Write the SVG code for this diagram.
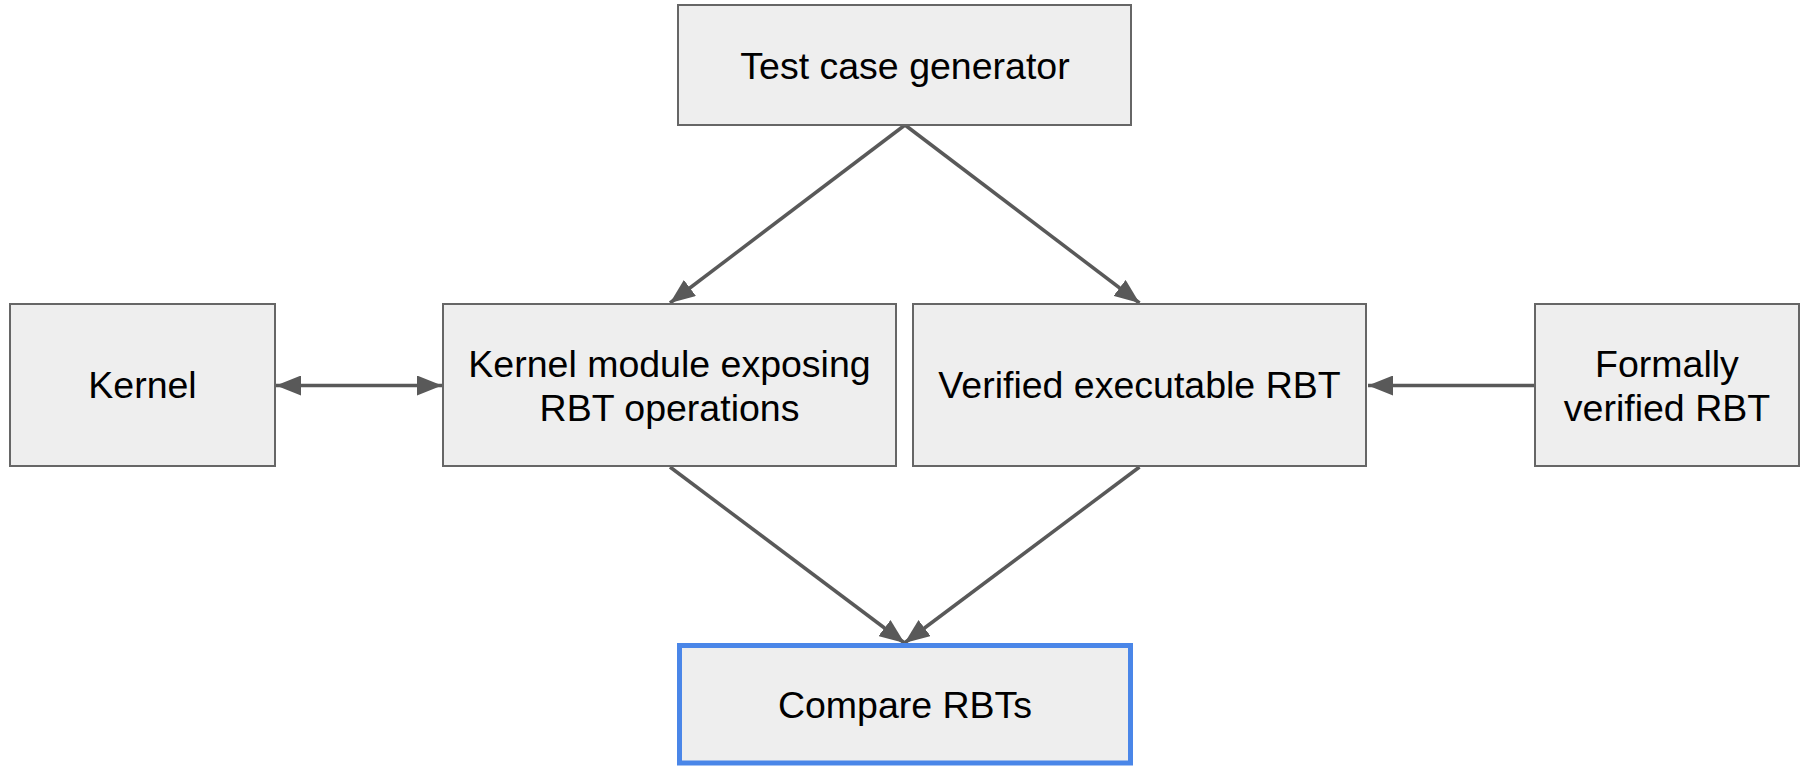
<svg xmlns="http://www.w3.org/2000/svg" width="1806" height="766" viewBox="0 0 1806 766">
<style>
.box{fill:#eeeeee;stroke:#666666;stroke-width:2}
.hl{fill:#eeeeee;stroke:#4a86e8;stroke-width:5}
.t{font-family:"Liberation Sans",Arial,sans-serif;font-size:37.5px;fill:#000000;text-anchor:middle}
.c{fill:none;stroke:#595959;stroke-width:3.5}
</style>
<defs>
<marker id="ah" markerUnits="userSpaceOnUse" markerWidth="26" markerHeight="20" refX="25" refY="10" orient="auto-start-reverse">
<path d="M0,0 L25,10 L0,20 Z" fill="#595959"/>
</marker>
</defs>
<rect width="1806" height="766" fill="#ffffff"/>
<g id="connectors">
<line class="c" x1="905" y1="125" x2="670" y2="303" marker-end="url(#ah)"/>
<line class="c" x1="905" y1="125" x2="1139.5" y2="303" marker-end="url(#ah)"/>
<line class="c" x1="276" y1="385.5" x2="442" y2="385.5" marker-start="url(#ah)" marker-end="url(#ah)"/>
<line class="c" x1="1535" y1="385.5" x2="1368" y2="385.5" marker-end="url(#ah)"/>
<line class="c" x1="670" y1="467" x2="904.5" y2="643" marker-end="url(#ah)"/>
<line class="c" x1="1139.5" y1="467" x2="904.5" y2="643" marker-end="url(#ah)"/>
</g>
<g id="test-case-generator">
<rect class="box" x="678" y="5" width="453" height="120"/>
<text class="t" x="905" y="79">Test case generator</text>
</g>
<g id="kernel">
<rect class="box" x="10" y="304" width="265" height="162"/>
<text class="t" x="142.5" y="398">Kernel</text>
</g>
<g id="kernel-module">
<rect class="box" x="443" y="304" width="453" height="162"/>
<text class="t" x="669.5" y="377">Kernel module exposing</text>
<text class="t" x="669.5" y="421">RBT operations</text>
</g>
<g id="verified-executable">
<rect class="box" x="913" y="304" width="453" height="162"/>
<text class="t" x="1139.5" y="398">Verified executable RBT</text>
</g>
<g id="formally-verified">
<rect class="box" x="1535" y="304" width="264" height="162"/>
<text class="t" x="1667" y="377">Formally</text>
<text class="t" x="1667" y="421">verified RBT</text>
</g>
<g id="compare-rbts">
<rect class="hl" x="679.5" y="645.5" width="451" height="117.5"/>
<text class="t" x="905" y="718">Compare RBTs</text>
</g>
</svg>
